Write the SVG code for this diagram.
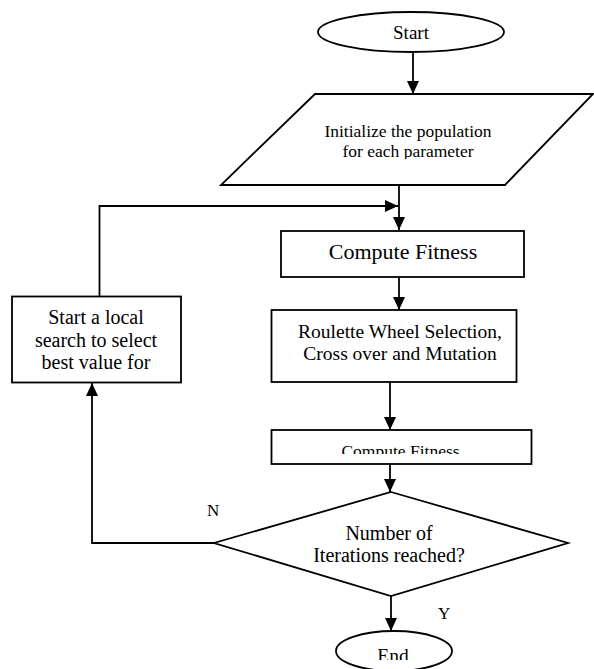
<svg xmlns="http://www.w3.org/2000/svg" width="594" height="669" viewBox="0 0 594 669">
<style>
.s{fill:#fff;stroke:#000;stroke-width:1.8}
.c{fill:none;stroke:#000;stroke-width:1.8}
text{font-family:"Liberation Serif","Times New Roman",serif;fill:#000;text-anchor:middle}
.l{text-anchor:start}
</style>
<defs>
<marker id="ah" markerUnits="userSpaceOnUse" markerWidth="14" markerHeight="12" refX="13" refY="6" orient="auto">
<path d="M0,0 L13,6 L0,12 Z" fill="#000"/>
</marker>
<clipPath id="cp1"><rect x="0" y="0" width="594" height="159"/></clipPath>
<clipPath id="cp2"><rect x="0" y="0" width="594" height="454"/></clipPath>
<clipPath id="cp3"><rect x="0" y="0" width="594" height="660"/></clipPath>
</defs>
<g id="connectors">
<path class="c" d="M413,53 V94" marker-end="url(#ah)"/>
<path class="c" d="M399,185 V230" marker-end="url(#ah)"/>
<path class="c" d="M99.5,297 V206 H398" marker-end="url(#ah)"/>
<path class="c" d="M399,277 V310" marker-end="url(#ah)"/>
<path class="c" d="M390,382 V430" marker-end="url(#ah)"/>
<path class="c" d="M390,464 V492" marker-end="url(#ah)"/>
<path class="c" d="M215,543 H92 V383" marker-end="url(#ah)"/>
<path class="c" d="M391,596 V631" marker-end="url(#ah)"/>
</g>
<g id="start">
<ellipse class="s" cx="411" cy="32" rx="93" ry="20"/>
<text x="411" y="39" font-size="19">Start</text>
</g>
<g id="init">
<polygon class="s" points="315,94 593,94 505,185 221,185"/>
<text x="408" y="137" font-size="17.5">Initialize the population</text>
<text x="408" y="157" font-size="17.5" clip-path="url(#cp1)">for each parameter</text>
</g>
<g id="fitness1">
<rect class="s" x="281" y="231" width="243" height="46"/>
<text x="403" y="259" font-size="22">Compute Fitness</text>
</g>
<g id="selection">
<rect class="s" x="271.5" y="310" width="245" height="72"/>
<text x="400" y="338" font-size="19.5">Roulette Wheel Selection,</text>
<text x="400" y="360" font-size="19.5">Cross over and Mutation</text>
</g>
<g id="fitness2">
<rect class="s" x="271.5" y="430" width="260" height="34"/>
<text x="400.5" y="457" font-size="17.5" clip-path="url(#cp2)">Compute Fitness</text>
</g>
<g id="decision">
<polygon class="s" points="391,492 568,543 391,596 214,543"/>
<text x="389" y="540" font-size="20">Number of</text>
<text x="389" y="562" font-size="20">Iterations reached?</text>
</g>
<g id="local">
<rect class="s" x="12" y="296.5" width="169" height="86"/>
<text x="96" y="324" font-size="20">Start a local</text>
<text x="96" y="347" font-size="20">search to select</text>
<text x="96" y="369" font-size="20">best value for</text>
</g>
<g id="end">
<ellipse class="s" cx="394" cy="651" rx="58" ry="20"/>
<text x="393" y="662" font-size="19.5" clip-path="url(#cp3)">End</text>
</g>
<g id="labels">
<text class="l" x="207" y="516" font-size="17">N</text>
<text class="l" x="438" y="619" font-size="17">Y</text>
</g>
</svg>
